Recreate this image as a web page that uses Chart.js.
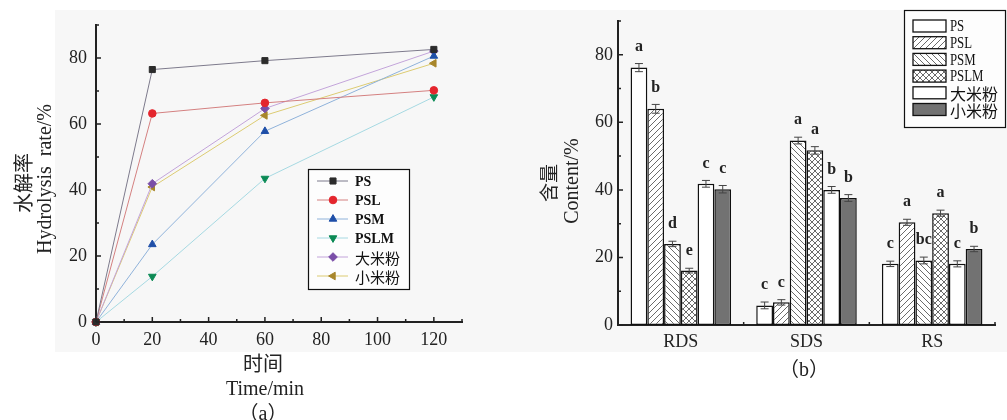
<!DOCTYPE html>
<html><head><meta charset="utf-8">
<script src="https://cdn.jsdelivr.net/npm/chart.js@4.4.0/dist/chart.umd.min.js"></script>
<style>
html,body{margin:0;padding:0;background:#fff;width:1007px;height:420px;overflow:hidden;}
#bg{position:absolute;left:55px;top:10px;width:952px;height:342px;background:#f7f7f7;}
#wa{position:absolute;left:0;top:0;width:500px;height:420px;}
#wb{position:absolute;left:500px;top:0;width:507px;height:420px;}
.cap{position:absolute;font:20px "Liberation Serif","Noto Sans CJK SC",serif;color:#222;transform:translate(-50%,-50%);white-space:nowrap;}
</style></head><body>
<div id="bg"></div>
<div id="wa"><canvas id="ca"></canvas></div>
<div id="wb"><canvas id="cb"></canvas></div>
<div class="cap" style="left:263px;top:411px">（a）</div>
<div class="cap" style="left:804px;top:367px">（b）</div>
<script>
// ---------- data: panel (a) hydrolysis rate ----------
const timeMin    = [0, 20, 60, 120];
const seriesNames = ['PS', 'PSL', 'PSM', 'PSLM', '大米粉', '小米粉'];
const ratePS     = [0, 76.5, 79.2, 82.6];
const ratePSL    = [0, 63.2, 66.4, 70.2];
const ratePSM    = [0, 23.5, 57.8, 80.6];
const ratePSLM   = [0, 13.8, 43.5, 68.2];
const rateRice   = [0, 41.9, 64.7, 82.1];
const rateMillet = [0, 40.9, 62.6, 78.4];
const xTicksA = [0, 20, 40, 60, 80, 100, 120];
const yTicks  = [0, 20, 40, 60, 80];

// ---------- data: panel (b) starch fractions ----------
const fractions     = ['RDS', 'SDS', 'RS'];
const contentPS     = [76.2, 5.8, 18.1];
const contentPSL    = [64.0, 6.7, 30.4];
const contentPSM    = [24.0, 54.6, 19.1];
const contentPSLM   = [16.1, 51.7, 33.1];
const contentRice   = [41.8, 40.0, 18.1];
const contentMillet = [40.2, 37.6, 22.5];
const errPS     = [1.2, 1.0, 0.8];
const errPSL    = [1.3, 0.8, 0.9];
const errPSM    = [0.8, 1.0, 1.0];
const errPSLM   = [0.7, 1.1, 0.9];
const errRice   = [1.0, 1.0, 0.9];
const errMillet = [1.1, 1.0, 0.8];
const letPS     = ['a', 'c', 'c'];
const letPSL    = ['b', 'c', 'a'];
const letPSM    = ['d', 'a', 'bc'];
const letPSLM   = ['e', 'a', 'a'];
const letRice   = ['c', 'b', 'c'];
const letMillet = ['c', 'b', 'b'];

const SERIF = '"Liberation Serif","Noto Sans CJK SC",serif';
const CJK = /[\u4e00-\u9fff]/;

// ---------- shared plugins ----------
const inTicks = {
  id: 'inTicks',
  afterDraw(chart, args, o) {
    const {ctx, chartArea: ca, scales} = chart;
    ctx.save(); ctx.strokeStyle = '#222'; ctx.lineWidth = 1.5; ctx.beginPath();
    (o.x || []).forEach(t => { const p = scales.x.getPixelForValue(t.v); ctx.moveTo(p, ca.bottom); ctx.lineTo(p, ca.bottom - t.len); });
    (o.y || []).forEach(t => { const p = scales.y.getPixelForValue(t.v); ctx.moveTo(ca.left, p); ctx.lineTo(ca.left + t.len, p); });
    ctx.stroke(); ctx.restore();
  }
};
const texts = {
  id: 'texts',
  afterDraw(chart, args, o) {
    const ctx = chart.ctx;
    (o.items || []).forEach(it => {
      ctx.save();
      ctx.translate(it.x, it.y); if (it.rot) ctx.rotate(it.rot);
      ctx.font = it.font; ctx.fillStyle = '#222'; ctx.textAlign = 'center'; ctx.textBaseline = 'middle';
      ctx.fillText(it.text, 0, 0); ctx.restore();
    });
  }
};
function tickList(from, to, step, len) { const r = []; for (let v = from; v <= to + 1e-9; v += step) r.push({v, len}); return r; }

// ---------- panel (a) ----------
const lineCols  = ['#7d7a8c', '#d48080', '#8fb2da', '#a6d9e2', '#c3a4da', '#dccb72'];
const markCols  = ['#2b2b2b', '#e4252d', '#1f4fa8', '#0b8a55', '#7a4ea8', '#a8862a'];
const pStyles   = ['rect', 'circle', 'triangle', 'triangle', 'rectRot', 'triangle'];
const pRots     = [0, 0, 0, 180, 0, -90];
const pRadius   = [4.3, 3.8, 4.4, 4.4, 4.3, 4.4];
const rateSeries = [ratePS, ratePSL, ratePSM, ratePSLM, rateRice, rateMillet];

const legendA = {
  id: 'legendA',
  afterDraw(chart) {
    const ctx = chart.ctx;
    ctx.save();
    ctx.fillStyle = '#fdfdfd'; ctx.fillRect(308, 169, 101, 120);
    ctx.strokeStyle = '#111'; ctx.lineWidth = 1.2; ctx.strokeRect(308.5, 169.5, 101, 120);
    chart.data.datasets.forEach((ds, i) => {
      const y = 181 + i * 19;
      ctx.strokeStyle = ds.borderColor; ctx.lineWidth = 1;
      ctx.beginPath(); ctx.moveTo(317, y); ctx.lineTo(348, y); ctx.stroke();
      ctx.fillStyle = ds.pointBackgroundColor; ctx.strokeStyle = ds.pointBorderColor;
      Chart.helpers.drawPoint(ctx, {pointStyle: ds.pointStyle, rotation: ds.pointRotation, radius: ds.pointRadius, borderWidth: 1}, 333, y);
      ctx.fillStyle = '#111'; ctx.textAlign = 'left'; ctx.textBaseline = 'middle';
      ctx.font = CJK.test(ds.label) ? '15px "Noto Sans CJK SC",sans-serif' : 'bold 14px "Liberation Serif",serif';
      ctx.fillText(ds.label, 355, y + 1);
    });
    ctx.restore();
  }
};

new Chart(document.getElementById('ca'), {
  type: 'line',
  data: {
    datasets: seriesNames.map((name, i) => ({
      label: name,
      data: timeMin.map((t, k) => ({x: t, y: rateSeries[i][k]})),
      borderColor: lineCols[i], borderWidth: 1,
      pointBackgroundColor: markCols[i], pointBorderColor: markCols[i], pointBorderWidth: 1,
      pointStyle: pStyles[i], pointRotation: pRots[i], pointRadius: pRadius[i],
      clip: false, tension: 0
    }))
  },
  options: {
    responsive: true, maintainAspectRatio: false, animation: false,
    layout: {padding: {top: 25, right: 38, bottom: 0, left: 0}},
    scales: {
      x: {
        type: 'linear', min: 0, max: 130,
        afterFit: s => { s.height = 98; },
        grid: {display: false, drawTicks: false},
        border: {display: true, color: '#222', width: 2},
        ticks: {stepSize: 20, includeBounds: false, padding: 7, color: '#222', font: {family: SERIF, size: 18},
                callback: v => xTicksA.includes(v) ? String(v) : null}
      },
      y: {
        min: 0, max: 90,
        afterFit: s => { s.width = 96; },
        grid: {display: false, drawTicks: false},
        border: {display: true, color: '#222', width: 2},
        ticks: {stepSize: 20, includeBounds: false, padding: 9, color: '#222', font: {family: SERIF, size: 18},
                callback: v => yTicks.includes(v) ? String(v) : null}
      }
    },
    plugins: {
      legend: {display: false}, tooltip: {enabled: false},
      inTicks: {x: tickList(0, 120, 20, 5).concat(tickList(10, 130, 20, 3)),
                y: tickList(0, 80, 20, 5).concat(tickList(10, 90, 20, 3))},
      texts: {items: [
        {text: '水解率', x: 23, y: 183, rot: -Math.PI / 2, font: '20px "Noto Sans CJK SC",sans-serif'},
        {text: 'Hydrolysis  rate/%', x: 46, y: 179, rot: -Math.PI / 2, font: '20px ' + SERIF},
        {text: '时间', x: 263, y: 363, font: '20px "Noto Sans CJK SC",sans-serif'},
        {text: 'Time/min', x: 265, y: 390, font: '20px ' + SERIF}
      ]}
    }
  },
  plugins: [inTicks, texts, legendA]
});

// ---------- panel (b) ----------
function hatch(kind) {
  const s = 6, c = document.createElement('canvas'); c.width = s; c.height = s;
  const g = c.getContext('2d');
  g.fillStyle = '#fff'; g.fillRect(0, 0, s, s);
  g.strokeStyle = '#5a5a5a'; g.lineWidth = 0.9; g.beginPath();
  if (kind === 'fwd' || kind === 'cross') {
    g.moveTo(-1, s + 1); g.lineTo(s + 1, -1);
    g.moveTo(-1, 1); g.lineTo(1, -1);
    g.moveTo(s - 1, s + 1); g.lineTo(s + 1, s - 1);
  }
  if (kind === 'back' || kind === 'cross') {
    g.moveTo(-1, -1); g.lineTo(s + 1, s + 1);
    g.moveTo(s - 1, -1); g.lineTo(s + 1, 1);
    g.moveTo(-1, s - 1); g.lineTo(1, s + 1);
  }
  g.stroke();
  return g.createPattern(c, 'repeat');
}
const fills = ['#ffffff', hatch('fwd'), hatch('back'), hatch('cross'), '#ffffff', '#727272'];
const contentSeries = [contentPS, contentPSL, contentPSM, contentPSLM, contentRice, contentMillet];
const errSeries = [errPS, errPSL, errPSM, errPSLM, errRice, errMillet];
const letSeries = [letPS, letPSL, letPSM, letPSLM, letRice, letMillet];

const errLetters = {
  id: 'errLetters',
  afterDatasetsDraw(chart) {
    const {ctx, scales: {y}} = chart;
    ctx.save();
    chart.data.datasets.forEach((ds, i) => {
      chart.getDatasetMeta(i).data.forEach((bar, j) => {
        const v = ds.data[j], e = ds.errors[j];
        const yt = y.getPixelForValue(v + e), yb = y.getPixelForValue(v - e);
        ctx.strokeStyle = '#444'; ctx.lineWidth = 1; ctx.beginPath();
        ctx.moveTo(bar.x, yt); ctx.lineTo(bar.x, yb);
        ctx.moveTo(bar.x - 4, yt); ctx.lineTo(bar.x + 4, yt);
        ctx.moveTo(bar.x - 4, yb); ctx.lineTo(bar.x + 4, yb);
        ctx.stroke();
        ctx.fillStyle = '#222'; ctx.font = 'bold 16px "Liberation Serif",serif';
        ctx.textAlign = 'center'; ctx.textBaseline = 'middle';
        ctx.fillText(ds.letters[j], bar.x, yt - 17);
      });
    });
    ctx.restore();
  }
};
const legendB = {
  id: 'legendB',
  afterDraw(chart) {
    const ctx = chart.ctx;
    ctx.save();
    ctx.fillStyle = '#fdfdfd'; ctx.fillRect(404, 10, 101, 117);
    ctx.strokeStyle = '#111'; ctx.lineWidth = 1.2; ctx.strokeRect(404.5, 10.5, 101, 117);
    chart.data.datasets.forEach((ds, i) => {
      const y = 26 + i * 16.7;
      ctx.fillStyle = ds.backgroundColor; ctx.fillRect(413, y - 6, 33, 12);
      ctx.strokeStyle = '#111'; ctx.lineWidth = 1.3; ctx.strokeRect(413, y - 6, 33, 12);
      ctx.fillStyle = '#111'; ctx.textAlign = 'left'; ctx.textBaseline = 'middle';
      if (CJK.test(ds.label)) {
        ctx.font = '16px "Noto Sans CJK SC",sans-serif';
        ctx.fillText(ds.label, 450, y + 1);
      } else {
        ctx.save(); ctx.translate(450, y + 1); ctx.scale(0.8, 1);
        ctx.font = '16px "Liberation Serif",serif'; ctx.fillText(ds.label, 0, 0); ctx.restore();
      }
    });
    ctx.restore();
  }
};

new Chart(document.getElementById('cb'), {
  type: 'bar',
  data: {
    labels: fractions,
    datasets: seriesNames.map((name, i) => ({
      label: name, data: contentSeries[i], errors: errSeries[i], letters: letSeries[i],
      backgroundColor: fills[i], borderColor: '#111', borderWidth: 1.5, borderSkipped: false,
      categoryPercentage: 0.8, barPercentage: 1.0
    }))
  },
  options: {
    responsive: true, maintainAspectRatio: false, animation: false,
    layout: {padding: {top: 21, right: 12, bottom: 0, left: 0}},
    scales: {
      x: {
        afterFit: s => { s.height = 95; },
        grid: {display: false, drawTicks: false},
        border: {display: true, color: '#222', width: 2},
        ticks: {padding: 6, color: '#222', font: {family: SERIF, size: 18}}
      },
      y: {
        min: 0, max: 90,
        afterFit: s => { s.width = 118; },
        grid: {display: false, drawTicks: false},
        border: {display: true, color: '#222', width: 2},
        ticks: {stepSize: 20, includeBounds: false, padding: 5, color: '#222', font: {family: SERIF, size: 18},
                callback: v => yTicks.includes(v) ? String(v) : null}
      }
    },
    plugins: {
      legend: {display: false}, tooltip: {enabled: false},
      inTicks: {x: tickList(0.5, 2.5, 1, 3),
                y: tickList(0, 80, 20, 5).concat(tickList(10, 90, 20, 3))},
      texts: {items: [
        {text: '含量', x: 49, y: 183, rot: -Math.PI / 2, font: '19px "Noto Sans CJK SC",sans-serif'},
        {text: 'Content/%', x: 73, y: 181, rot: -Math.PI / 2, font: '20px ' + SERIF}
      ]}
    }
  },
  plugins: [inTicks, texts, errLetters, legendB]
});
</script>
</body></html>
